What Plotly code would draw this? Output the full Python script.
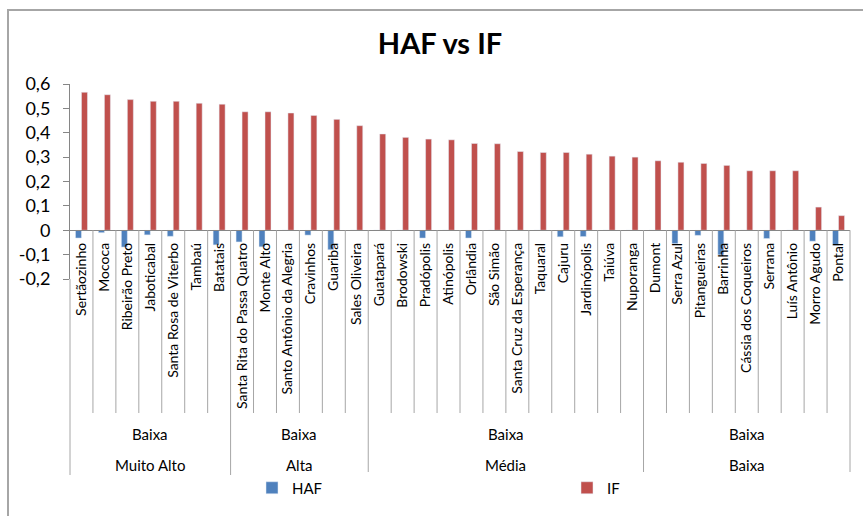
import plotly.graph_objects as go

# Municipalities, ordered by IF within each group
cities = [
    "Sertãozinho", "Mococa", "Ribeirão Preto", "Jaboticabal", "Santa Rosa de Viterbo",
    "Tambaú", "Batatais",
    "Santa Rita do Passa Quatro", "Monte Alto", "Santo Antônio da Alegria", "Cravinhos",
    "Guariba", "Sales Oliveira",
    "Guatapará", "Brodowski", "Pradópolis", "Atinópolis", "Orlândia", "São Simão",
    "Santa Cruz da Esperança", "Taquaral", "Cajuru", "Jardinópolis", "Taiúva", "Nuporanga",
    "Dumont", "Serra Azul", "Pitangueiras", "Barrinha", "Cássia dos Coqueiros", "Serrana",
    "Luís Antônio", "Morro Agudo", "Pontal",
]

haf = [
    -0.032, -0.010, -0.069, -0.019, -0.025, 0.0, -0.060,
    -0.048, -0.068, 0.0, -0.020, -0.080, 0.0,
    0.0, 0.0, -0.032, 0.0, -0.032, 0.0, 0.0, 0.0, -0.027, -0.026, 0.0, 0.0,
    0.0, -0.055, -0.021, -0.101, 0.0, -0.034, 0.0, -0.045, -0.062,
]

if_values = [
    0.566, 0.556, 0.536, 0.529, 0.529, 0.521, 0.517,
    0.486, 0.486, 0.481, 0.471, 0.455, 0.429,
    0.395, 0.381, 0.374, 0.371, 0.356, 0.355, 0.323, 0.319, 0.319, 0.312, 0.304, 0.300,
    0.285, 0.279, 0.274, 0.266, 0.244, 0.244, 0.244, 0.095, 0.060,
]

# Grouping levels under the city names
group_sizes = [7, 6, 12, 9]
level1_labels = ["Baixa", "Baixa", "Baixa", "Baixa"]
level2_labels = ["Muito Alto", "Alta", "Média", "Baixa"]

y_tickvals = [-0.2, -0.1, 0.0, 0.1, 0.2, 0.3, 0.4, 0.5, 0.6]
y_ticktext = ["-0,2", "-0,1", "0", "0,1", "0,2", "0,3", "0,4", "0,5", "0,6"]

W, H = 863, 516
ML, MR, MT, MB = 70, 13, 84, 237
PLOT_W = W - ML - MR
PLOT_H = H - MT - MB
Y_MIN, Y_MAX = -0.2, 0.6


def px_x(p):
    return (p - ML) / PLOT_W


def px_y(p):
    return (MT + PLOT_H - p) / PLOT_H


zero_pos = (0 - Y_MIN) / (Y_MAX - Y_MIN)

FONT = "Lato, 'Open Sans', sans-serif"
GRID = "#a6a6a6"
AXIS = "#868686"

fig = go.Figure()
fig.add_trace(go.Bar(name="HAF", x=cities, y=haf, marker_color="#4F81BD"))
fig.add_trace(go.Bar(name="IF", x=cities, y=if_values, marker_color="#C0504D"))

shapes = []
# outer chart frame
shapes.append(dict(type="rect", xref="paper", yref="paper",
                   x0=px_x(8), x1=px_x(W + 20), y0=px_y(H + 20), y1=px_y(10),
                   line=dict(color=GRID, width=2), fillcolor="rgba(0,0,0,0)", layer="below"))

# dividers between cities and between groups
bounds = []
acc = 0
for s in group_sizes:
    acc += s
    bounds.append(acc)
for i in range(1, len(cities)):
    if i in bounds:
        continue
    shapes.append(dict(type="line", xref="x", yref="paper", x0=i - 0.5, x1=i - 0.5,
                       y0=zero_pos, y1=px_y(413), line=dict(color=GRID, width=1)))
for b in bounds[:-1]:
    shapes.append(dict(type="line", xref="x", yref="paper", x0=b - 0.5, x1=b - 0.5,
                       y0=zero_pos, y1=px_y(475), line=dict(color=GRID, width=1)))
for xe in (0, 1):
    y_top = 0 if xe == 0 else zero_pos
    shapes.append(dict(type="line", xref="paper", yref="paper", x0=xe, x1=xe,
                       y0=y_top, y1=px_y(475), line=dict(color=GRID, width=1)))

annotations = []
start = 0
for s, l1, l2 in zip(group_sizes, level1_labels, level2_labels):
    center = start + (s - 1) / 2
    annotations.append(dict(x=center, xref="x", y=px_y(434), yref="paper", yanchor="middle",
                            text=l1, showarrow=False,
                            font=dict(family=FONT, size=15, color="#000")))
    annotations.append(dict(x=center, xref="x", y=px_y(465), yref="paper", yanchor="middle",
                            text=l2, showarrow=False,
                            font=dict(family=FONT, size=15, color="#000")))
    start += s

fig.update_layout(
    width=W, height=H,
    margin=dict(l=ML, r=MR, t=MT, b=MB),
    paper_bgcolor="white", plot_bgcolor="white",
    separators=",.",
    barmode="group", bargap=0.477, bargroupgap=0,
    title=dict(text="<b>HAF vs IF</b>", x=440 / W, xref="container", xanchor="center",
               y=1 - 44 / H, yref="container", yanchor="middle",
               font=dict(family=FONT, size=29, color="#000")),
    xaxis=dict(type="category", range=[-0.5, len(cities) - 0.5],
               anchor="free", position=zero_pos,
               showline=True, linecolor=AXIS, linewidth=1,
               ticks="", tickangle=-90, ticklabelstandoff=6,
               tickfont=dict(family=FONT, size=14, color="#000"),
               showgrid=False, zeroline=False),
    yaxis=dict(range=[Y_MIN, Y_MAX], tickvals=y_tickvals, ticktext=y_ticktext,
               showline=True, linecolor=AXIS, linewidth=1,
               ticks="outside", ticklen=6, tickcolor=AXIS, ticklabelstandoff=9,
               tickfont=dict(family=FONT, size=18, color="#000"),
               showgrid=False, zeroline=False),
    legend=dict(orientation="h", xref="container", yref="container",
                x=252 / W, xanchor="left", y=1 - 488 / H, yanchor="middle",
                entrywidth=270, entrywidthmode="pixels",
                font=dict(family=FONT, size=15, color="#000")),
    shapes=shapes,
    annotations=annotations,
)

fig.write_html("out.html")
